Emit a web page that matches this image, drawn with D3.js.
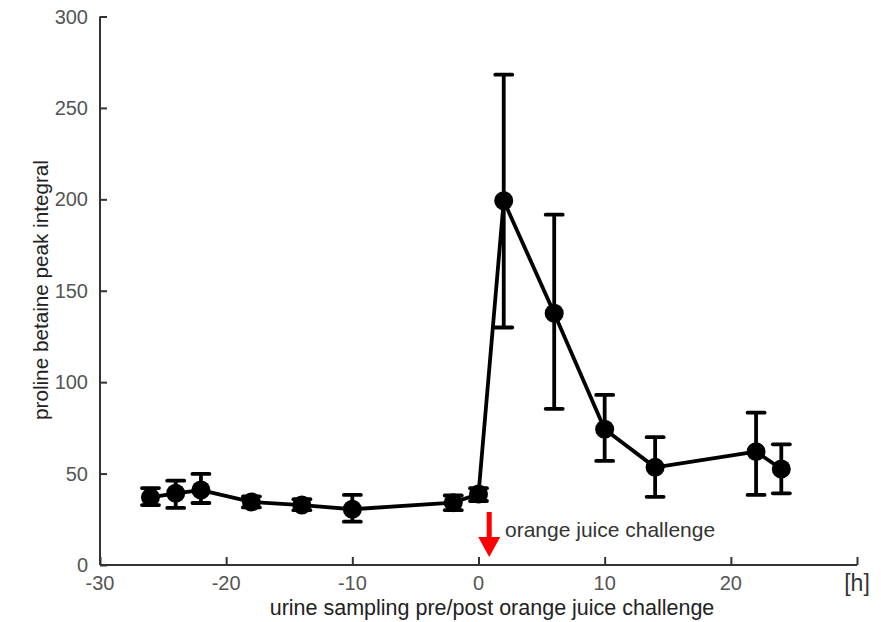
<!DOCTYPE html>
<html>
<head>
<meta charset="utf-8">
<script src="https://cdn.jsdelivr.net/npm/d3@7"></script>
<style>
  html, body { margin: 0; padding: 0; background: #fff; }
  svg { display: block; }
  text { font-family: "Liberation Sans", Arial, Helvetica, sans-serif; }
</style>
</head>
<body>
<svg id="chart" width="881" height="622"></svg>
<script>
// ---- data ----
const hours   = [-26, -24, -22, -18, -14, -10, -2, 0, 2, 6, 10, 14, 22, 24];
const means   = [37, 39.2, 41, 34.5, 32.8, 30.5, 34.1, 38.8, 199.2, 137.7, 74.2, 53.4, 62, 52.5];
const errLow  = [32.8, 31.2, 33.9, 31.5, 30, 23.7, 30, 35, 129.9, 85.4, 56.9, 37.3, 38.3, 39.2];
const errHigh = [42.1, 46.1, 49.8, 37.5, 36, 38.3, 38, 42, 268.2, 191.6, 93, 69.9, 83.3, 66];
const xTicks  = [-30, -20, -10, 0, 10, 20];
const yTicks  = [0, 50, 100, 150, 200, 250, 300];
const challengeHour = 0.85;
const challengeLabel = "orange juice challenge";
const xTitle = "urine sampling pre/post orange juice challenge";
const yTitle = "proline betaine peak integral";
const xUnit = "[h]";

const points = hours.map((h, i) => ({h, m: means[i], lo: errLow[i], hi: errHigh[i]}));

const svg = d3.select("#chart");
const x = d3.scaleLinear().domain([-30, 30]).range([100, 857]);
const y = d3.scaleLinear().domain([0, 300]).range([565, 16.5]);

const axisColor = "#333";
const tickColor = "#555";

// y axis
const yAxis = svg.append("g").attr("transform", `translate(${x(-30)},0)`)
  .call(d3.axisRight(y).tickValues(yTicks).tickSize(7).tickFormat(() => ""));
yAxis.select(".domain").attr("stroke", axisColor).attr("stroke-width", 2).attr("d", `M0,${y(300)}V${y(0)}`);
yAxis.selectAll(".tick line").attr("stroke", axisColor).attr("stroke-width", 2);
svg.append("g").selectAll("text").data(yTicks).join("text")
  .attr("x", 88).attr("y", d => y(d)).attr("dy", "0.35em")
  .attr("text-anchor", "end").attr("font-size", 20).attr("fill", tickColor)
  .text(d => d);

// x axis
const xAxis = svg.append("g").attr("transform", `translate(0,${y(0)})`)
  .call(d3.axisTop(x).tickValues(xTicks.concat([30])).tickSize(8).tickFormat(() => ""));
xAxis.select(".domain").attr("stroke", axisColor).attr("stroke-width", 2).attr("d", `M${x(-30)},0H${x(30)}`);
xAxis.selectAll(".tick line").attr("stroke", axisColor).attr("stroke-width", 2);
svg.append("g").selectAll("text").data(xTicks).join("text")
  .attr("x", d => x(d)).attr("y", 590)
  .attr("text-anchor", "middle").attr("font-size", 20).attr("fill", tickColor)
  .text(d => d);
svg.append("text").attr("x", x(30)).attr("y", 591).attr("text-anchor", "middle")
  .attr("font-size", 23).attr("fill", "#333").text(xUnit);

// axis titles
svg.append("text").attr("x", 492).attr("y", 615).attr("text-anchor", "middle")
  .attr("font-size", 21.5).attr("fill", "#222").text(xTitle);
svg.append("text").attr("transform", `translate(48,290) rotate(-90)`)
  .attr("text-anchor", "middle").attr("font-size", 20.7).attr("fill", "#222").text(yTitle);

// connecting line
svg.append("path").datum(points)
  .attr("fill", "none").attr("stroke", "#000").attr("stroke-width", 3.8)
  .attr("stroke-linejoin", "round")
  .attr("d", d3.line().x(d => x(d.h)).y(d => y(d.m)));

// error bars
const eb = svg.append("g").selectAll("g").data(points).join("g");
eb.append("line").attr("x1", d => x(d.h)).attr("x2", d => x(d.h))
  .attr("y1", d => y(d.lo)).attr("y2", d => y(d.hi))
  .attr("stroke", "#000").attr("stroke-width", 3.8);
eb.append("line").attr("x1", d => x(d.h) - 8.5).attr("x2", d => x(d.h) + 8.5)
  .attr("y1", d => y(d.lo)).attr("y2", d => y(d.lo))
  .attr("stroke", "#000").attr("stroke-width", 3.8).attr("stroke-linecap", "round");
eb.append("line").attr("x1", d => x(d.h) - 8.5).attr("x2", d => x(d.h) + 8.5)
  .attr("y1", d => y(d.hi)).attr("y2", d => y(d.hi))
  .attr("stroke", "#000").attr("stroke-width", 3.8).attr("stroke-linecap", "round");

// markers
svg.append("g").selectAll("circle").data(points).join("circle")
  .attr("cx", d => x(d.h)).attr("cy", d => y(d.m)).attr("r", 9.5).attr("fill", "#000");

// challenge arrow
const ax = x(challengeHour);
svg.append("line").attr("x1", ax).attr("x2", ax).attr("y1", 512).attr("y2", 540)
  .attr("stroke", "#ff0000").attr("stroke-width", 5);
svg.append("path")
  .attr("d", `M${ax - 11},${537}L${ax + 11},${537}L${ax},${557}Z`)
  .attr("fill", "#ff0000");
svg.append("text").attr("x", 505).attr("y", 537).attr("font-size", 21).attr("fill", "#333")
  .text(challengeLabel);
</script>
</body>
</html>
